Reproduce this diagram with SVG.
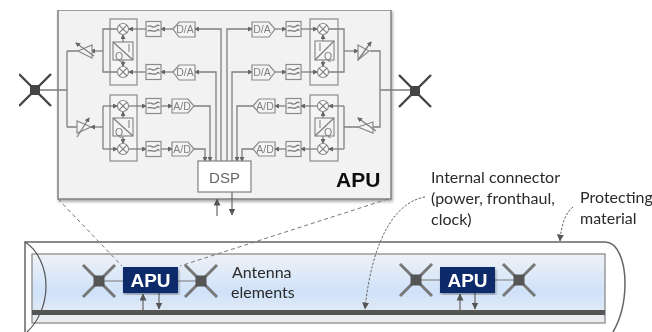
<svg xmlns="http://www.w3.org/2000/svg" width="652" height="332" viewBox="0 0 652 332">
<style>
.l{fill:none;stroke:#7f7f7f;stroke-width:1.3}
.a{marker-end:url(#ah)}
.k{fill:none;stroke:#666;stroke-width:1.2;marker-end:url(#ak)}
.b{fill:#fff;stroke:#8a8a8a;stroke-width:1.2}
.c{fill:#f4f4f4;stroke:#8a8a8a;stroke-width:1.2}
.ant{fill:none;stroke-width:2.4}
.d{fill:none;stroke:#777;stroke-width:1;stroke-dasharray:4 3}
.u{fill:none;stroke:#666;stroke-width:1}
.s{font-family:"Liberation Sans",Arial,sans-serif;font-size:10.500px;fill:#808080;text-anchor:middle}
.t{font-family:Lato,"Liberation Sans",sans-serif;font-size:16px;fill:#2a2a2a}
.w{font-family:"Liberation Sans",Arial,sans-serif;font-size:19px;font-weight:bold;fill:#fff;text-anchor:middle}
</style>
<defs>
<marker id="ah" markerWidth="5" markerHeight="5" refX="4" refY="2.5" orient="auto" markerUnits="userSpaceOnUse"><path d="M0 0L5 2.5L0 5z" fill="#666"/></marker>
<marker id="ak" markerWidth="7" markerHeight="7" refX="6.500" refY="3.5" orient="auto" markerUnits="userSpaceOnUse"><path d="M0 0L7 3.5L0 7z" fill="#555"/></marker>
<linearGradient id="g" x1="0" y1="0" x2="0" y2="1"><stop offset="0" stop-color="#eef2f7"/><stop offset=".55" stop-color="#cfe2f9"/><stop offset=".8" stop-color="#dfe9f5"/><stop offset="1" stop-color="#eeeeee"/></linearGradient>
<filter id="sh" x="-5%" y="-5%" width="110%" height="110%"><feDropShadow dx="1" dy="2" stdDeviation="1.5" flood-color="#000" flood-opacity=".35"/></filter>
<filter id="soft" x="0" y="0" width="100%" height="100%"><feGaussianBlur stdDeviation=".45"/></filter>
<g id="mx"><circle r="5.5" class="b"/><path d="M-3.9-3.9L3.9 3.9M3.9-3.9L-3.9 3.9" class="l"/></g>
<g id="fl"><rect x="-7.5" y="-7.5" width="15" height="15" class="c"/><path d="M-6-2.5C-2-5 -1 0 2-2.5S5-3 6-3.5M-6 2C-2 0 0 4 3 1.5S5 2 6 1.5" class="l" stroke-width="1"/></g>
<g id="an"><path d="M-16-16L16 16M16-16L-16 16" class="ant"/><rect x="-5" y="-5" width="10" height="10" stroke="none"/></g>
<g id="an2"><path d="M-16-16L16 16M16-16L-16 16" fill="none" stroke-width="3"/><rect x="-5.500" y="-5.500" width="11" height="11" stroke="none"/></g>
</defs>
<g filter="url(#soft)">
<g id="tube">
<rect x="32" y="254" width="573" height="69" fill="url(#g)" stroke="#8a8a8a" stroke-width="1.3"/>
<path d="M25 332V242H605C618 242 625 262 625 283C625 305 620 320 613 332" fill="none" stroke="#666" stroke-width="1.5"/>
<path d="M25 242C38 250 46 268 46 286C46 305 38 322 27 332" fill="none" stroke="#555" stroke-width="1.2"/>
<rect x="32" y="310" width="573" height="5" fill="#555"/>
</g>
<g id="apu-detail"><rect x="58" y="10" width="333" height="189" fill="#f2f2f2" stroke="#808080" stroke-width="1.5" filter="url(#sh)"/>
<text x="336" y="187" font-family="Liberation Sans,Arial,sans-serif" font-size="21" font-weight="bold" fill="#111">APU</text></g>
<g id="mixers-left-top"><rect x="110" y="19" width="27" height="66" class="c"/></g>
<g id="mixers-left-bottom"><rect x="110" y="95" width="27" height="66" class="c"/></g>
<g id="mixers-right-top"><rect x="310" y="19" width="28" height="66" class="c"/></g>
<g id="mixers-right-bottom"><rect x="310" y="95" width="28" height="66" class="c"/></g>
<g id="connectors">
<path class="l" d="M40 90H67M67 51V127M67 51H78M67 127H78"/>
<path class="l a" d="M103 51H91"/><path class="l" d="M118 29H103V72H118"/>
<path class="l a" d="M103 127H91"/><path class="l a" d="M103 106H117"/><path class="l a" d="M103 149H117"/><path class="l" d="M103 106V149"/>
<path class="l a" d="M146 29H129"/><path class="l a" d="M146 72H129"/><path class="l a" d="M173 29H161"/><path class="l a" d="M173 72H161"/>
<path class="l a" d="M129 106H146"/><path class="l a" d="M129 149H146"/><path class="l a" d="M161 106H172"/><path class="l a" d="M161 149H172"/>
<path class="l a" d="M221 161V29H195"/><path class="l a" d="M216 161V72H195"/>
<path class="l a" d="M194 106H210V161"/><path class="l a" d="M194 149H205V161"/>
<path class="l a" d="M227 161V29H252"/><path class="l a" d="M232 161V72H252"/>
<path class="l a" d="M253 106H237V161"/><path class="l a" d="M253 149H242V161"/>
<path class="l a" d="M275 29H286"/><path class="l a" d="M275 72H286"/><path class="l a" d="M301 29H317"/><path class="l a" d="M301 72H317"/>
<path class="l a" d="M286 106H275"/><path class="l a" d="M286 149H275"/><path class="l a" d="M317 106H301"/><path class="l a" d="M317 149H301"/>
<path class="l" d="M329 29H344V72H329"/><path class="l a" d="M344 51H358"/>
<path class="l a" d="M344 106H329"/><path class="l a" d="M344 149H329"/><path class="l" d="M344 106V149M344 127H358"/>
<path class="l" d="M370 51H380V127H373M380 90H415"/>
<path class="l a" d="M123 42V35"/><path class="l a" d="M123 60V66"/><path class="l a" d="M123 118V112"/><path class="l a" d="M123 136V143"/>
<path class="l a" d="M323 41V35"/><path class="l a" d="M323 60V66"/><path class="l a" d="M323 118V112"/><path class="l a" d="M323 136V143"/>
<path class="k" d="M217 216V199"/><path class="k" d="M232 192V215"/>
<path class="d" d="M58 199L122 266M388 199L180 266"/>
<path class="u" stroke-dasharray="2.5 1.5" marker-end="url(#ak)" d="M425 197C395 202 372 240 365 309"/>
<path class="u" stroke-dasharray="2.5 1.5" marker-end="url(#ak)" d="M573 207C566 212 561 225 560 241"/>
<path class="k" d="M143 310V294"/><path class="k" d="M159 293V309"/><path class="k" d="M460 310V294"/><path class="k" d="M475 293V309"/>
<path d="M99 281H123M178 281H201M416 280H440M495 280H519" fill="none" stroke="#777" stroke-width="1.2"/>
</g>
<g id="filters"><use href="#fl" x="153.500" y="29"/><use href="#fl" x="153.500" y="72"/><use href="#fl" x="153.500" y="106"/><use href="#fl" x="153.500" y="149"/><use href="#fl" x="293.500" y="29"/><use href="#fl" x="293.500" y="72"/><use href="#fl" x="293.500" y="106"/><use href="#fl" x="293.500" y="149"/></g>
<g id="converters">
<path class="c" d="M173 29L179 22H195V37H179z"/><text class="s" x="185" y="33">D/A</text>
<path class="c" d="M173 72L179 65H195V80H179z"/><text class="s" x="185" y="76">D/A</text>
<path class="c" d="M172 99H188L194 106L188 113H172z"/><text class="s" x="182" y="110">A/D</text>
<path class="c" d="M172 142H188L194 149L188 156H172z"/><text class="s" x="182" y="153">A/D</text>
<path class="c" d="M252 22H269L275 29L269 37H252z"/><text class="s" x="262" y="33">D/A</text>
<path class="c" d="M252 65H269L275 72L269 80H252z"/><text class="s" x="262" y="76">D/A</text>
<path class="c" d="M253 106L259 99H275V113H259z"/><text class="s" x="265" y="110">A/D</text>
<path class="c" d="M253 149L259 142H275V156H259z"/><text class="s" x="265" y="153">A/D</text>
</g>
<g id="mixers"><use href="#mx" x="123" y="29"/><use href="#mx" x="123" y="72"/><use href="#mx" x="123" y="106"/><use href="#mx" x="123" y="149"/><use href="#mx" x="323" y="29"/><use href="#mx" x="323" y="72"/><use href="#mx" x="323" y="106"/><use href="#mx" x="323" y="149"/></g>
<g id="iq-converters">
<rect class="c" x="113" y="42" width="20" height="18"/><path class="l" d="M113 42L133 60"/><text class="s" x="129" y="52">I</text><text class="s" x="119" y="60">Q</text>
<rect class="c" x="113" y="118" width="20" height="18"/><path class="l" d="M113 118L133 136"/><text class="s" x="129" y="128">I</text><text class="s" x="119" y="136">Q</text>
<rect class="c" x="315" y="41" width="19" height="19"/><path class="l" d="M315 60L334 41"/><text class="s" x="320" y="51">I</text><text class="s" x="328" y="60">Q</text>
<rect class="c" x="315" y="118" width="19" height="18"/><path class="l" d="M315 136L334 118"/><text class="s" x="320" y="128">I</text><text class="s" x="328" y="136">Q</text>
</g>
<g id="amplifiers">
<path class="c" d="M78 51L92 45V58z"/><path class="l a" d="M94 56L76 43"/>
<path class="c" d="M91 127L77 121V133z"/><path class="l a" d="M77 137L89 118"/>
<path class="c" d="M369 51L358 45V60z"/><path class="l a" d="M358 60L371 42"/>
<path class="c" d="M358 127L373 122V133z"/><path class="l a" d="M376 131L358 118"/>
</g>
<g id="dsp"><rect x="198" y="161" width="53" height="31" fill="#fff" stroke="#808080" stroke-width="1.2"/><text x="224.500" y="183" font-family="Liberation Sans,Arial,sans-serif" font-size="15" fill="#666" text-anchor="middle">DSP</text></g>
<g id="antenna-left" transform="translate(35 90)" fill="#444" stroke="#444"><use href="#an"/></g>
<g id="antenna-right" transform="translate(415 91)" fill="#444" stroke="#444"><use href="#an"/></g>
<g id="ant-1" transform="translate(99 281)" fill="#555" stroke="#777"><use href="#an2"/></g>
<g id="apu-1"><rect x="123" y="267" width="55" height="26" fill="#10296a" filter="url(#sh)"/><text class="w" x="150.500" y="287">APU</text></g>
<g id="ant-2" transform="translate(201 281)" fill="#555" stroke="#777"><use href="#an2"/></g>
<g id="ant-3" transform="translate(416 280)" fill="#555" stroke="#777"><use href="#an2"/></g>
<g id="apu-2"><rect x="440" y="267" width="55" height="26" fill="#10296a" filter="url(#sh)"/><text class="w" x="467.500" y="287">APU</text></g>
<g id="ant-4" transform="translate(519 280)" fill="#555" stroke="#777"><use href="#an2"/></g>
<g id="labels">
<text class="t" x="232" y="278">Antenna</text><text class="t" x="231" y="298">elements</text>
<text class="t" x="431" y="183">Internal connector</text><text class="t" x="431" y="204">(power, fronthaul,</text><text class="t" x="431" y="225">clock)</text>
<text class="t" x="580" y="203">Protecting</text><text class="t" x="580" y="224">material</text>
</g>
</g>
</svg>
